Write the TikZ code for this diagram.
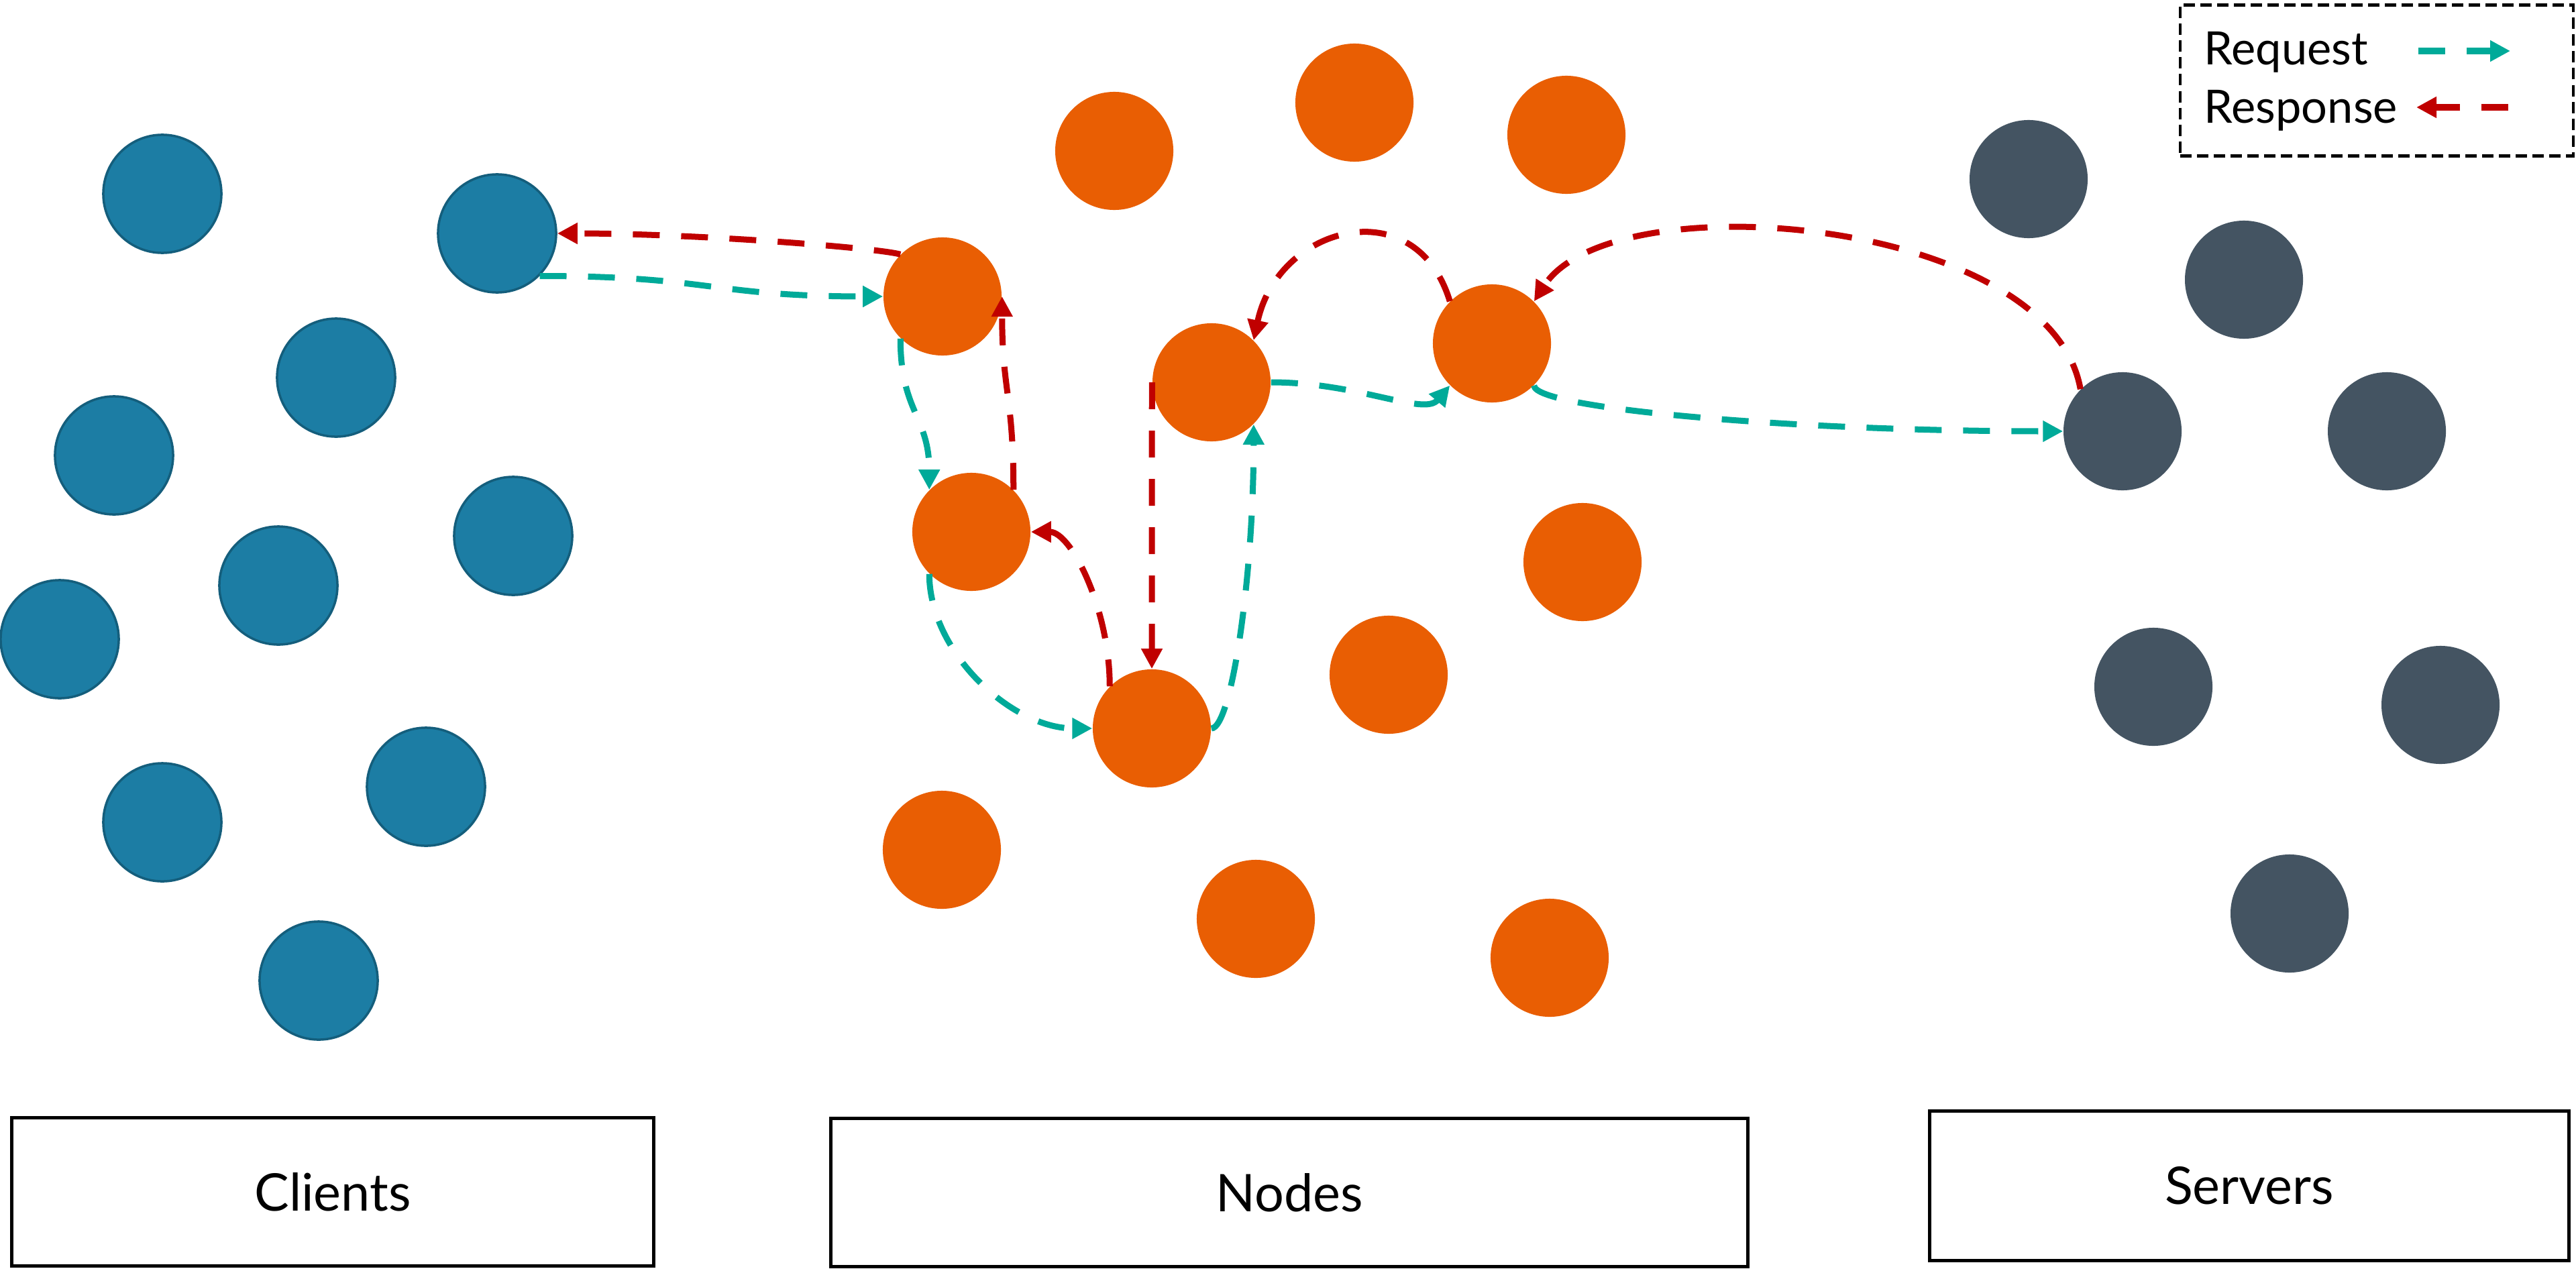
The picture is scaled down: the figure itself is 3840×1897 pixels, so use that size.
\documentclass[tikz,border=0pt]{standalone}
\usepackage{fontspec}
\setmainfont{Lato}
\usetikzlibrary{arrows.meta}
\definecolor{cblue}{RGB}{28,125,164}
\definecolor{cblueline}{RGB}{20,94,124}
\definecolor{corange}{RGB}{233,94,3}
\definecolor{cgray}{RGB}{68,84,98}
\definecolor{cteal}{RGB}{0,170,153}
\definecolor{cred}{RGB}{192,0,0}
\tikzset{
  client/.style={circle,inner sep=0pt,minimum size=1.76cm,fill=cblue,draw=cblueline,line width=0.035cm},
  relay/.style={circle,inner sep=0pt,minimum size=1.76cm,fill=corange},
  server/.style={circle,inner sep=0pt,minimum size=1.76cm,fill=cgray},
  flow/.style={line width=0.09cm,dash pattern=on 0.4cm off 0.32cm,-{Triangle[length=0.3cm,width=0.3cm]}},
  req/.style={flow,draw=cteal},
  resp/.style={flow,draw=cred},
  groupbox/.style={draw=black,line width=0.05cm,inner sep=0pt,font=\fontsize{22}{26}\selectfont},
  legendbox/.style={draw=black,line width=0.045cm,dash pattern=on 0.17cm off 0.08cm,inner sep=0pt},
  legendtext/.style={anchor=base west,inner sep=0pt,font=\fontsize{19.5}{23}\selectfont},
}
\begin{document}
\begin{tikzpicture}[x=0.01cm,y=-0.01cm]
\useasboundingbox (0,0) rectangle (3840,1897);
% clients
\node[client] (b1) at (242,289) {};
\node[client] (b2) at (741,348) {};
\node[client] (b3) at (501,563) {};
\node[client] (b4) at (170,679) {};
\node[client] (b5) at (765,799) {};
\node[client] (b6) at (415,873) {};
\node[client] (b7) at (89,953) {};
\node[client] (b8) at (635,1173) {};
\node[client] (b9) at (242,1226) {};
\node[client] (b10) at (475,1462) {};
% relay nodes
\node[relay] (o1) at (1661,225) {};
\node[relay] (o2) at (2019,153) {};
\node[relay] (o3) at (2335,201) {};
\node[relay] (A) at (1405,442) {};
\node[relay] (B) at (1806,570) {};
\node[relay] (C) at (2224,512) {};
\node[relay] (D) at (1448,793) {};
\node[relay] (o8) at (2359,838) {};
\node[relay] (o9) at (2070,1006) {};
\node[relay] (E) at (1717,1086) {};
\node[relay] (o11) at (1404,1267) {};
\node[relay] (o12) at (1872,1370) {};
\node[relay] (o13) at (2310,1428) {};
% servers
\node[server] (g1) at (3024,267) {};
\node[server] (g2) at (3345,417) {};
\node[server] (S) at (3164,643) {};
\node[server] (g3) at (3558,643) {};
\node[server] (g5) at (3210,1024) {};
\node[server] (g6) at (3638,1051) {};
\node[server] (g7) at (3413,1362) {};
% connectors
\draw[req] (b2.-45) to[out=0,in=180,out distance=2.56cm,in distance=2.56cm] (A.west);
\draw[resp] (A.135) to[out=165,in=0,out distance=0.4cm,in distance=2cm] (b2.east);
\draw[req] (A.-135) to[out=-90,in=90,out distance=1.1cm,in distance=1.1cm] (D.135);
\draw[resp] (D.45) to[out=90,in=-90,out distance=1.4cm,in distance=1.4cm] (A.east);
\draw[req] (D.-135) to[out=-90,in=180,out distance=1.16cm,in distance=1.21cm] (E.west);
\draw[resp] (E.135) to[out=90,in=0,out distance=1.15cm,in distance=0.6cm] (D.east);
\draw[resp] (B.west) -- (E.north);
\draw[req] (E.east) to[out=0,in=-90,out distance=0.3cm,in distance=2.27cm] (B.-45);
\draw[req] (B.east) to[out=0,in=-130,out distance=1.3cm,in distance=0.6cm] (C.-135);
\draw[resp] (C.135) to[out=107,in=78,out distance=1.75cm,in distance=1.75cm] (B.45);
\draw[resp] (S.135) to[out=100,in=57,out distance=2.6cm,in distance=2.15cm] (C.45);
\draw[req] (C.-45) to[out=-90,in=180,out distance=0.35cm,in distance=3.95cm] (S.west);
% group boxes
\node[groupbox,minimum width=9.56cm,minimum height=2.2cm] (clients) at (496,1777) {Clients};
\node[groupbox,minimum width=13.67cm,minimum height=2.2cm] (nodes) at (1922,1778) {Nodes};
\node[groupbox,minimum width=9.53cm,minimum height=2.22cm] (servers) at (3353,1768) {Servers};
% legend
\node[legendbox,minimum width=5.86cm,minimum height=2.25cm] (legend) at (3543,120) {};
\node[legendtext] (lreq) at (3285,97) {Request};
\node[legendtext] (lresp) at (3285,183) {Response};
\coordinate (lreqa) at (3605,76);
\coordinate (lreqb) at (3742,76);
\coordinate (lrespa) at (3739,160);
\coordinate (lrespb) at (3602,160);
\draw[req] (lreqa) -- (lreqb);
\draw[resp] (lrespa) -- (lrespb);
\end{tikzpicture}
\end{document}
